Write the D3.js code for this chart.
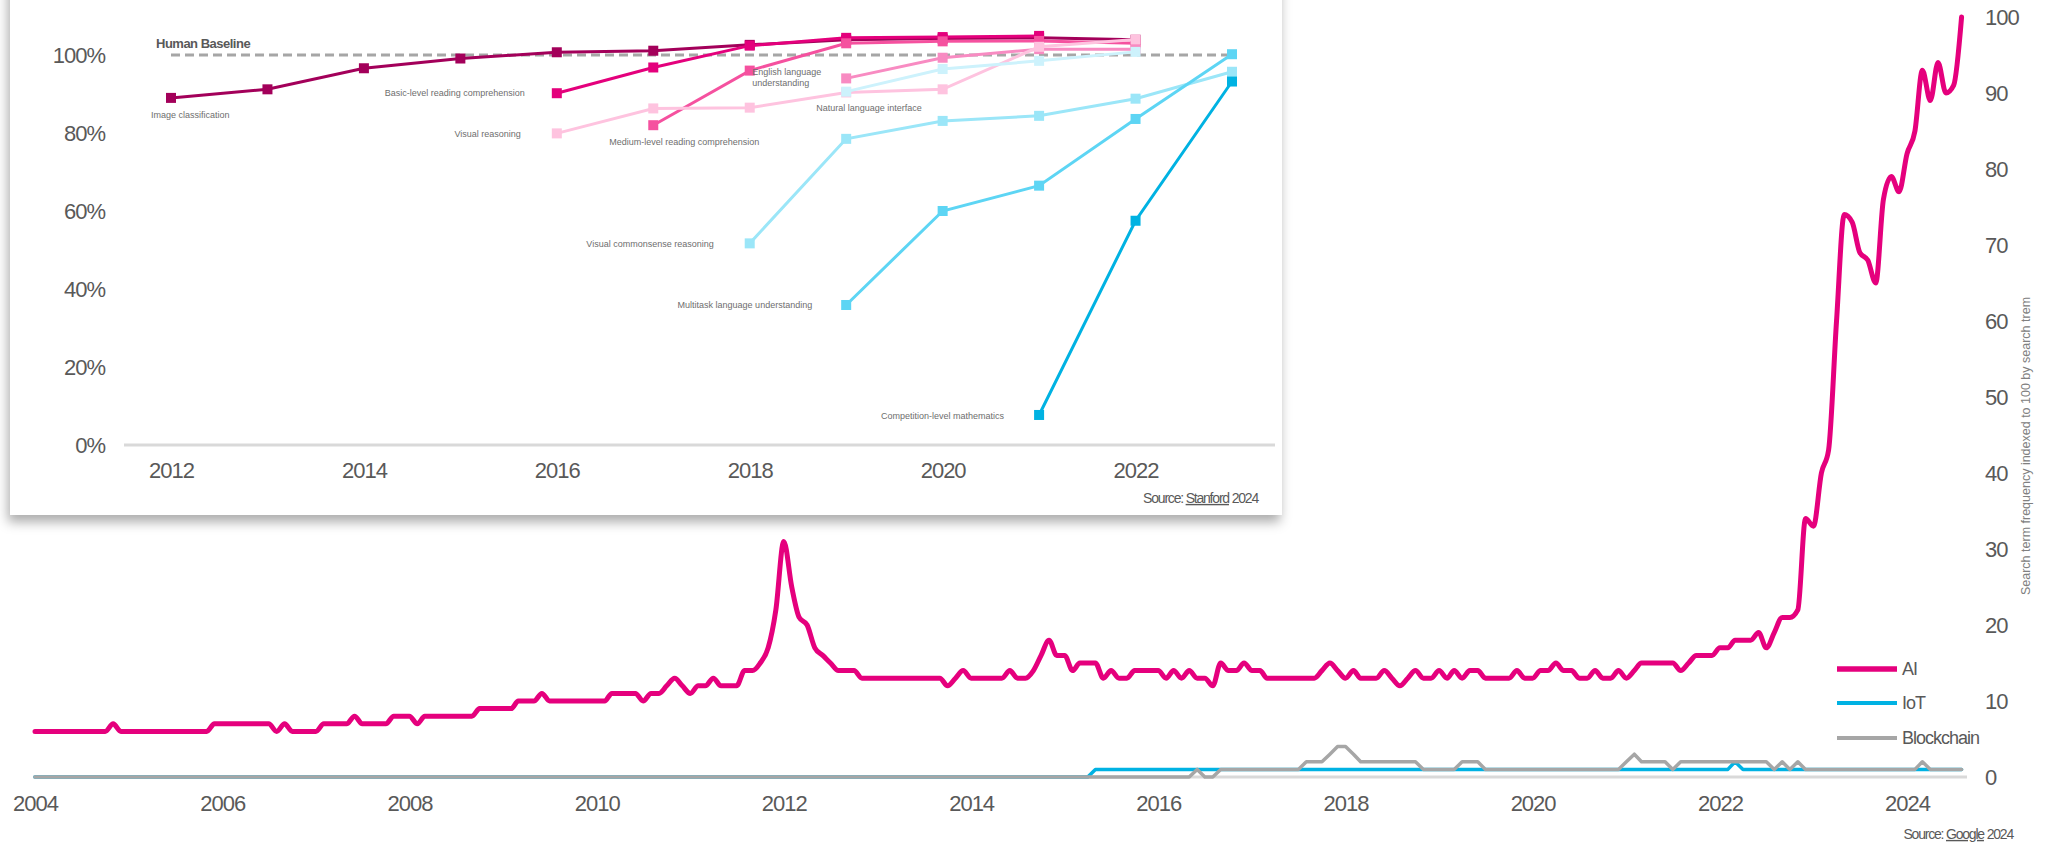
<!DOCTYPE html>
<html>
<head>
<meta charset="utf-8">
<script src="https://cdn.jsdelivr.net/npm/d3@7"></script>
<style>
  html, body { margin: 0; padding: 0; background: #fff; overflow: hidden; }
  svg { display: block; font-family: "Liberation Sans", Arial, sans-serif; }
</style>
</head>
<body>
<svg id="chart" width="2051" height="843"></svg>
<script>
// ---- Google search interest, monthly from Jan 2004 to Aug 2024 (index 100 = peak)
const trendStart = new Date(2004, 0, 1);
const aiSearch = [
  6, 6, 6, 6, 6, 6, 6, 6, 6, 6, 7, 6,            // 2004
  6, 6, 6, 6, 6, 6, 6, 6, 6, 6, 6, 7,            // 2005
  7, 7, 7, 7, 7, 7, 7, 6, 7, 6, 6, 6,            // 2006
  6, 7, 7, 7, 7, 8, 7, 7, 7, 7, 8, 8,            // 2007
  8, 7, 8, 8, 8, 8, 8, 8, 8, 9, 9, 9,            // 2008
  9, 9, 10, 10, 10, 11, 10, 10, 10, 10, 10, 10,  // 2009
  10, 10, 11, 11, 11, 11, 10, 11, 11, 12, 13, 12,// 2010
  11, 12, 12, 13, 12, 12, 12, 14, 14, 15, 17, 22,// 2011
  31, 25, 21, 20, 17, 16, 15, 14, 14, 14, 13, 13,// 2012
  13, 13, 13, 13, 13, 13, 13, 13, 13, 12, 13, 14,// 2013
  13, 13, 13, 13, 13, 14, 13, 13, 14, 16, 18, 16,// 2014
  16, 14, 15, 15, 15, 13, 14, 13, 13, 14, 14, 14,// 2015
  14, 13, 14, 13, 14, 13, 13, 12, 15, 14, 14, 15,// 2016
  14, 14, 13, 13, 13, 13, 13, 13, 13, 14, 15, 14,// 2017
  13, 14, 13, 13, 13, 14, 13, 12, 13, 14, 13, 13,// 2018
  14, 13, 14, 13, 14, 14, 13, 13, 13, 13, 14, 13,// 2019
  13, 14, 14, 15, 14, 14, 13, 13, 14, 13, 13, 14,// 2020
  13, 14, 15, 15, 15, 15, 15, 14, 15, 16, 16, 16,// 2021
  17, 17, 18, 18, 18, 19, 17, 19, 21, 21, 22, 34,// 2022
  33, 40, 43, 60, 74, 73, 69, 68, 65, 76, 79, 77,// 2023
  82, 85, 93, 89, 94, 90, 91, 100                // 2024
];
const iotSearch = [
  0, 0, 0, 0, 0, 0, 0, 0, 0, 0, 0, 0,  // 2004
  0, 0, 0, 0, 0, 0, 0, 0, 0, 0, 0, 0,  // 2005
  0, 0, 0, 0, 0, 0, 0, 0, 0, 0, 0, 0,  // 2006
  0, 0, 0, 0, 0, 0, 0, 0, 0, 0, 0, 0,  // 2007
  0, 0, 0, 0, 0, 0, 0, 0, 0, 0, 0, 0,  // 2008
  0, 0, 0, 0, 0, 0, 0, 0, 0, 0, 0, 0,  // 2009
  0, 0, 0, 0, 0, 0, 0, 0, 0, 0, 0, 0,  // 2010
  0, 0, 0, 0, 0, 0, 0, 0, 0, 0, 0, 0,  // 2011
  0, 0, 0, 0, 0, 0, 0, 0, 0, 0, 0, 0,  // 2012
  0, 0, 0, 0, 0, 0, 0, 0, 0, 0, 0, 0,  // 2013
  0, 0, 0, 0, 0, 0, 0, 0, 0, 0, 0, 0,  // 2014
  0, 0, 0, 0, 1, 1, 1, 1, 1, 1, 1, 1,  // 2015
  1, 1, 1, 1, 1, 1, 1, 1, 1, 1, 1, 1,  // 2016
  1, 1, 1, 1, 1, 1, 1, 1, 1, 1, 1, 1,  // 2017
  1, 1, 1, 1, 1, 1, 1, 1, 1, 1, 1, 1,  // 2018
  1, 1, 1, 1, 1, 1, 1, 1, 1, 1, 1, 1,  // 2019
  1, 1, 1, 1, 1, 1, 1, 1, 1, 1, 1, 1,  // 2020
  1, 1, 1, 1, 1, 1, 1, 1, 1, 1, 1, 1,  // 2021
  1, 1, 2, 1, 1, 1, 1, 1, 1, 1, 1, 1,  // 2022
  1, 1, 1, 1, 1, 1, 1, 1, 1, 1, 1, 1,  // 2023
  1, 1, 1, 1, 1, 1, 1, 1               // 2024
];
const blockchainSearch = [
  0, 0, 0, 0, 0, 0, 0, 0, 0, 0, 0, 0,  // 2004
  0, 0, 0, 0, 0, 0, 0, 0, 0, 0, 0, 0,  // 2005
  0, 0, 0, 0, 0, 0, 0, 0, 0, 0, 0, 0,  // 2006
  0, 0, 0, 0, 0, 0, 0, 0, 0, 0, 0, 0,  // 2007
  0, 0, 0, 0, 0, 0, 0, 0, 0, 0, 0, 0,  // 2008
  0, 0, 0, 0, 0, 0, 0, 0, 0, 0, 0, 0,  // 2009
  0, 0, 0, 0, 0, 0, 0, 0, 0, 0, 0, 0,  // 2010
  0, 0, 0, 0, 0, 0, 0, 0, 0, 0, 0, 0,  // 2011
  0, 0, 0, 0, 0, 0, 0, 0, 0, 0, 0, 0,  // 2012
  0, 0, 0, 0, 0, 0, 0, 0, 0, 0, 0, 0,  // 2013
  0, 0, 0, 0, 0, 0, 0, 0, 0, 0, 0, 0,  // 2014
  0, 0, 0, 0, 0, 0, 0, 0, 0, 0, 0, 0,  // 2015
  0, 0, 0, 0, 0, 1, 0, 0, 1, 1, 1, 1,  // 2016
  1, 1, 1, 1, 1, 1, 1, 2, 2, 2, 3, 4,  // 2017
  4, 3, 2, 2, 2, 2, 2, 2, 2, 2, 1, 1,  // 2018
  1, 1, 1, 2, 2, 2, 1, 1, 1, 1, 1, 1,  // 2019
  1, 1, 1, 1, 1, 1, 1, 1, 1, 1, 1, 1,  // 2020
  2, 3, 2, 2, 2, 2, 1, 2, 2, 2, 2, 2,  // 2021
  2, 2, 2, 2, 2, 2, 2, 1, 2, 1, 2, 1,  // 2022
  1, 1, 1, 1, 1, 1, 1, 1, 1, 1, 1, 1,  // 2023
  1, 1, 2, 1, 1, 1, 1, 1               // 2024
];
const trendYTicks = [0, 10, 20, 30, 40, 50, 60, 70, 80, 90, 100];
const trendNames = ["AI", "IoT", "Blockchain"];

// ---- Stanford AI Index: benchmark score relative to human baseline (%)
const benchNames = [
  "Image classification", "Basic-level reading comprehension", "Medium-level reading comprehension",
  "English language understanding", "Visual reasoning", "Natural language interface",
  "Visual commonsense reasoning", "Multitask language understanding", "Competition-level mathematics"
];
const benchFirstYear = [2012, 2016, 2017, 2019, 2016, 2019, 2018, 2019, 2021];
const benchScores = [
  [89.0, 91.2, 96.6, 99.1, 100.7, 101.1, 102.6, 103.9, 104.2, 104.4, 103.9],
  [90.2, 96.8, 102.4, 104.4, 104.6, 104.9],
  [82.0, 96.0, 103.0, 103.5, 103.6, 103.0],
  [94.0, 99.3, 101.5, 101.5],
  [79.9, 86.3, 86.5, 90.4, 91.2, 102.1, 104.0],
  [90.6, 96.4, 98.5, 100.8],
  [51.7, 78.5, 83.1, 84.4, 88.8, 95.7],
  [35.9, 60.0, 66.5, 83.6, 100.2],
  [7.7, 57.5, 93.2]
];
const benchYTicks = [0, 20, 40, 60, 80, 100];
const benchXTicks = [2012, 2014, 2016, 2018, 2020, 2022];
const humanBaseline = 100;

// ---- styling
const trendColors = { AI: "#e5007d", IoT: "#00b2e3", Blockchain: "#a6a6a6" };
const trendWidths = { AI: 5, IoT: 3.5, Blockchain: 3.5 };
const benchColors = ["#a3005a", "#e4007c", "#f5519f", "#f88bc2", "#fec3df", "#cdf2fc", "#9be6f8", "#5dd5f4", "#00b2e2"];
const benchLabelAnchor = ["start", "end", "start", "start", "end", "start", "end", "end", "end"];
const benchLabelDx = [-20, -32, -44, -94, -36, -30, -36, -34, -35];
const benchLabelDy = [17, 0, 17, -7, 0, 16, 0, 0, 1];
const textGrey = "#595959";

const svg = d3.select("#chart");

const defs = svg.append("defs");
defs.append("filter").attr("id", "panelShadow")
  .attr("x", "-5%").attr("y", "-10%").attr("width", "110%").attr("height", "125%")
  .append("feDropShadow")
  .attr("dx", -2).attr("dy", 7).attr("stdDeviation", 6)
  .attr("flood-color", "#000").attr("flood-opacity", 0.33);

// ================= background chart: search trends =================
const months = aiSearch.map((_, i) => d3.timeMonth.offset(trendStart, i));
const x = d3.scaleTime().domain([trendStart, new Date(2024, 0, 1)]).range([35, 1907]);
const y = d3.scaleLinear().domain([0, 100]).range([777, 17]);

svg.append("line")
  .attr("x1", 33).attr("x2", 1967).attr("y1", y(0)).attr("y2", y(0))
  .attr("stroke", "#d9d9d9").attr("stroke-width", 3);

const gx = svg.append("g").attr("transform", `translate(0,${y(0)})`)
  .call(d3.axisBottom(x).ticks(d3.timeYear.every(2)).tickFormat(d3.timeFormat("%Y")).tickSize(0));
gx.select(".domain").remove();
gx.attr("font-family", null).attr("font-size", 22);
gx.selectAll("text").attr("y", 26).attr("dy", "0.35em")
  .attr("fill", textGrey).attr("letter-spacing", -1);

const gy = svg.append("g").attr("transform", "translate(1979,0)")
  .call(d3.axisRight(y).tickValues(trendYTicks).tickSize(0).tickPadding(6));
gy.select(".domain").remove();
gy.attr("font-family", null).attr("font-size", 22);
gy.selectAll("text").attr("fill", textGrey).attr("letter-spacing", -1);

svg.append("text")
  .attr("transform", "translate(2027,446) rotate(-90)")
  .attr("text-anchor", "middle").attr("dominant-baseline", "middle")
  .attr("font-size", 12.5).attr("fill", "#808080")
  .text("Search term frequency indexed to 100 by search trem");

const trendSeries = [
  { name: "IoT", values: iotSearch, curve: d3.curveLinear },
  { name: "Blockchain", values: blockchainSearch, curve: d3.curveLinear },
  { name: "AI", values: aiSearch, curve: d3.curveMonotoneX }
];
trendSeries.forEach(s => {
  svg.append("path").datum(s.values)
    .attr("fill", "none")
    .attr("stroke", trendColors[s.name])
    .attr("stroke-width", trendWidths[s.name])
    .attr("stroke-linejoin", "round").attr("stroke-linecap", "round")
    .attr("d", d3.line().x((d, i) => x(months[i])).y(d => y(d)).curve(s.curve));
});

// legend
const legend = svg.append("g").attr("transform", "translate(1837,669)");
trendNames.forEach((n, i) => {
  const row = legend.append("g").attr("transform", `translate(0,${[0, 34, 69][i]})`);
  row.append("line").attr("x1", 0).attr("x2", 60).attr("y1", 0).attr("y2", 0)
    .attr("stroke", trendColors[n]).attr("stroke-width", trendWidths[n] + 0.5);
  row.append("text").attr("x", 65).attr("dy", "0.35em")
    .attr("font-size", 18).attr("letter-spacing", -1).attr("fill", textGrey).text(n);
});

const srcG = svg.append("text").attr("x", 2013).attr("y", 834).attr("dy", "0.35em")
  .attr("text-anchor", "end").attr("font-size", 14).attr("letter-spacing", -1.2).attr("fill", textGrey);
srcG.append("tspan").text("Source: ");
srcG.append("tspan").attr("text-decoration", "underline").text("Google");
srcG.append("tspan").text(" 2024");

// ================= inset panel: benchmarks vs human =================
svg.append("rect")
  .attr("x", 10).attr("y", -20).attr("width", 1272).attr("height", 535)
  .attr("fill", "#fff").attr("filter", "url(#panelShadow)");

const inset = svg.append("g");
const xI = d3.scaleLinear().domain([2012, 2023]).range([171, 1232]);
const yI = d3.scaleLinear().domain([0, 100]).range([445, 55]);

inset.append("line")
  .attr("x1", 124).attr("x2", 1275).attr("y1", yI(0)).attr("y2", yI(0))
  .attr("stroke", "#d9d9d9").attr("stroke-width", 3);

const ix = inset.append("g").attr("transform", `translate(0,${yI(0)})`)
  .call(d3.axisBottom(xI).tickValues(benchXTicks).tickFormat(d3.format("d")).tickSize(0));
ix.select(".domain").remove();
ix.attr("font-family", null).attr("font-size", 22);
ix.selectAll("text").attr("y", 25).attr("dy", "0.35em").attr("fill", textGrey).attr("letter-spacing", -1);

const iy = inset.append("g").attr("transform", "translate(111,0)")
  .call(d3.axisLeft(yI).tickValues(benchYTicks).tickFormat(d => d + "%").tickSize(0).tickPadding(6));
iy.select(".domain").remove();
iy.attr("font-family", null).attr("font-size", 22);
iy.selectAll("text").attr("fill", textGrey).attr("letter-spacing", -1);

// human baseline
inset.append("line")
  .attr("x1", xI(2012)).attr("x2", xI(2023)).attr("y1", yI(humanBaseline)).attr("y2", yI(humanBaseline))
  .attr("stroke", "#a6a6a6").attr("stroke-width", 3).attr("stroke-dasharray", "9,5");
inset.append("text")
  .attr("x", xI(2012) - 15).attr("y", yI(humanBaseline) - 12).attr("dy", "0.35em")
  .attr("font-size", 13).attr("font-weight", "bold").attr("letter-spacing", -0.5)
  .attr("fill", textGrey).text("Human Baseline");

const benchLine = d3.line().x(d => xI(d.year)).y(d => yI(d.value));
benchNames.forEach((name, k) => {
  const pts = benchScores[k].map((v, i) => ({ year: benchFirstYear[k] + i, value: v }));
  const g = inset.append("g");
  g.append("path").datum(pts)
    .attr("fill", "none").attr("stroke", benchColors[k]).attr("stroke-width", 3)
    .attr("d", benchLine);
  g.selectAll("rect").data(pts).join("rect")
    .attr("x", d => xI(d.year) - 5).attr("y", d => yI(d.value) - 5)
    .attr("width", 10).attr("height", 10)
    .attr("fill", benchColors[k]);

  const p0 = pts[0];
  const lbl = g.append("text")
    .attr("x", xI(p0.year) + benchLabelDx[k]).attr("y", yI(p0.value) + benchLabelDy[k]).attr("dy", "0.35em")
    .attr("text-anchor", benchLabelAnchor[k])
    .attr("font-size", 9).attr("fill", "#6e6e6e");
  if (name === "English language understanding") {
    lbl.append("tspan").text("English language");
    lbl.append("tspan").attr("x", xI(p0.year) + benchLabelDx[k]).attr("dy", 11).text("understanding");
  } else {
    lbl.text(name);
  }
});

const srcS = inset.append("text").attr("x", 1258).attr("y", 498).attr("dy", "0.35em")
  .attr("text-anchor", "end").attr("font-size", 14).attr("letter-spacing", -1.2).attr("fill", textGrey);
srcS.append("tspan").text("Source: ");
srcS.append("tspan").attr("text-decoration", "underline").text("Stanford");
srcS.append("tspan").text(" 2024");
</script>
</body>
</html>
